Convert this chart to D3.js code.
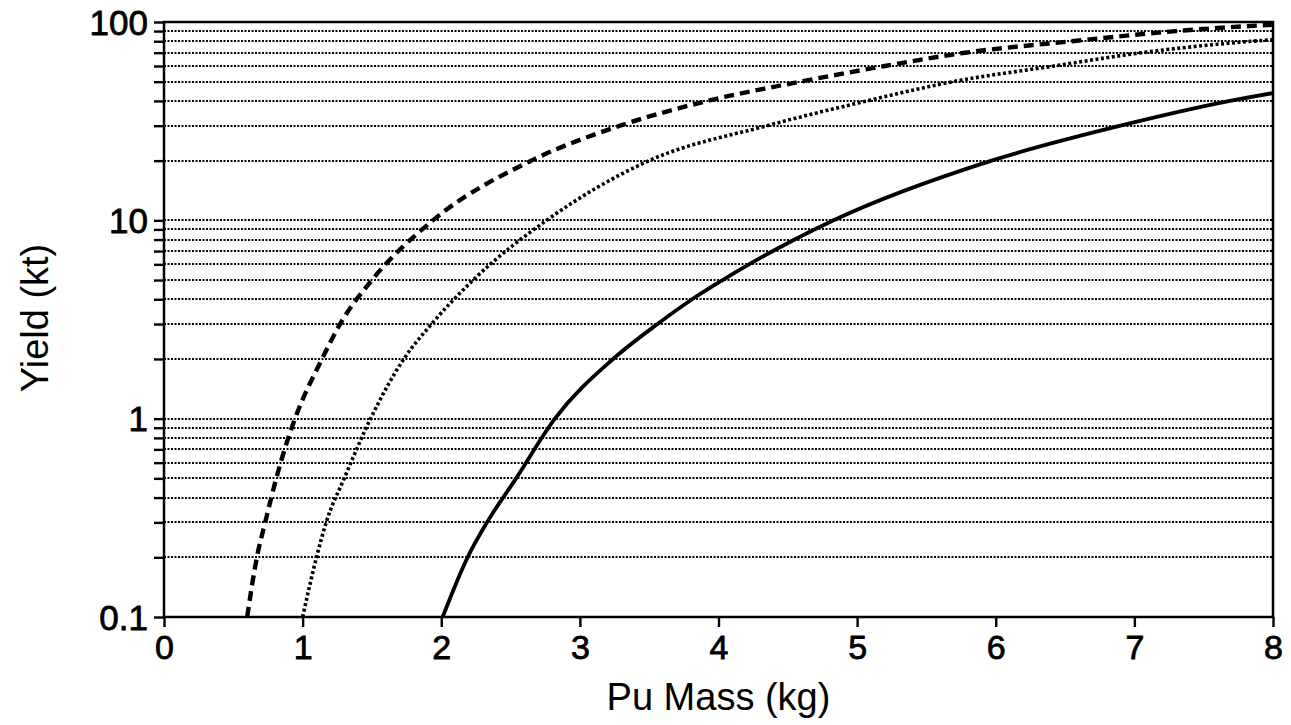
<!DOCTYPE html>
<html>
<head>
<meta charset="utf-8">
<script src="https://cdn.jsdelivr.net/npm/d3@7"></script>
<style>
  body { margin: 0; background: #fff; }
  text { font-family: "Liberation Sans", Arial, Helvetica, sans-serif; fill: #000; }
</style>
</head>
<body>
<div id="chart"></div>
<script>
// values: Pu mass (kg) against yield (kt)
let massDashed  = [0.60, 0.67, 0.73, 0.81, 0.87, 0.945, 1.14, 1.27, 1.50, 1.94, 2.65, 3.29, 3.92, 4.59, 5.20, 5.78, 6.55, 7.30, 8.00];
let yieldDashed = [0.1, 0.2, 0.3, 0.5, 0.7, 1, 2, 3, 5, 10, 20, 30, 40, 50, 60, 70, 80, 90, 97];

let massDotted  = [1.00, 1.10, 1.17, 1.30, 1.49, 1.73, 1.93, 2.23, 2.76, 3.50, 4.35, 5.07, 5.69, 6.42, 7.05, 7.85, 8.00];
let yieldDotted = [0.1, 0.2, 0.3, 0.5, 1, 2, 3, 5, 10, 20, 30, 40, 50, 60, 70, 80, 81.5];

let massSolid  = [2.01, 2.19, 2.33, 2.54, 2.82, 3.24, 3.56, 3.81, 4.03, 4.22, 4.55, 4.83, 5.97, 6.90, 7.69, 8.00];
let yieldSolid = [0.1, 0.2, 0.3, 0.5, 1, 2, 3, 4, 5, 6, 8, 10, 20, 30, 40, 43.8];

let xTicks = [0, 1, 2, 3, 4, 5, 6, 7, 8];
let yLabels = [0.1, 1, 10, 100];
let yLabelText = ["0.1", "1", "10", "100"];

let width = 1291, height = 725;
let margin = { top: 22, right: 18, bottom: 108, left: 164 };

let svg = d3.select("#chart").append("svg")
  .attr("width", width)
  .attr("height", height);

let x = d3.scaleLinear().domain([0, 8]).range([margin.left, width - margin.right]);
let y = d3.scaleLog().domain([0.1, 100]).range([height - margin.bottom, margin.top]);

// every minor step of the log scale gets a dotted grid line
let gridValues = y.ticks().filter(v => v > 0.1 && v < 100);

svg.append("g")
  .selectAll("line")
  .data(gridValues)
  .join("line")
  .attr("x1", margin.left)
  .attr("x2", width - margin.right)
  .attr("y1", d => Math.round(y(d)))
  .attr("y2", d => Math.round(y(d)))
  .attr("stroke", "#000")
  .attr("stroke-width", 2)
  .attr("stroke-dasharray", "2,1.5");

// y axis: small ticks at every grid value, labels only at decades
let yAxis = svg.append("g")
  .attr("transform", `translate(${margin.left},0)`)
  .call(d3.axisLeft(y).tickValues(y.ticks()).tickSize(10).tickFormat(""));
yAxis.select(".domain").remove();
yAxis.selectAll(".tick line").attr("stroke-width", 2.4);

svg.append("g")
  .selectAll("text")
  .data(yLabels)
  .join("text")
  .attr("x", margin.left - 16)
  .attr("y", d => y(d))
  .attr("dy", "0.36em")
  .attr("text-anchor", "end")
  .attr("font-size", 35)
  .attr("stroke", "#000")
  .attr("stroke-width", 0.8)
  .text((d, i) => yLabelText[i]);

let xAxis = svg.append("g")
  .attr("transform", `translate(0,${height - margin.bottom})`)
  .call(d3.axisBottom(x).tickValues(xTicks).tickSize(10).tickPadding(8).tickFormat(d3.format("d")));
xAxis.select(".domain").remove();
xAxis.selectAll(".tick line").attr("stroke-width", 2.4);
xAxis.selectAll(".tick text")
  .attr("font-size", 34)
  .attr("fill", "#000")
  .attr("stroke", "#000")
  .attr("stroke-width", 0.8)
  .attr("font-family", "Liberation Sans, Arial, sans-serif");

// plot frame
svg.append("rect")
  .attr("x", margin.left)
  .attr("y", margin.top)
  .attr("width", width - margin.left - margin.right)
  .attr("height", height - margin.top - margin.bottom)
  .attr("fill", "none")
  .attr("stroke", "#000")
  .attr("stroke-width", 2.5);

let line = d3.line()
  .x(d => x(d[0]))
  .y(d => y(d[1]))
  .curve(d3.curveMonotoneX);

let series = [
  { mass: massDashed, yield: yieldDashed, width: 4.4, dash: "10,6" },
  { mass: massDotted, yield: yieldDotted, width: 3.6, dash: "3,2.5" },
  { mass: massSolid, yield: yieldSolid, width: 3.8, dash: null }
];

svg.append("g")
  .selectAll("path")
  .data(series)
  .join("path")
  .attr("d", s => line(s.mass.map((m, i) => [m, s.yield[i]])))
  .attr("fill", "none")
  .attr("stroke", "#000")
  .attr("stroke-width", s => s.width)
  .attr("stroke-dasharray", s => s.dash);

svg.append("text")
  .attr("x", x(4))
  .attr("y", 710)
  .attr("text-anchor", "middle")
  .attr("font-size", 38)
  .text("Pu Mass (kg)");

svg.append("text")
  .attr("transform", `translate(48,318) rotate(-90)`)
  .attr("text-anchor", "middle")
  .attr("font-size", 38)
  .text("Yield (kt)");
</script>
</body>
</html>
